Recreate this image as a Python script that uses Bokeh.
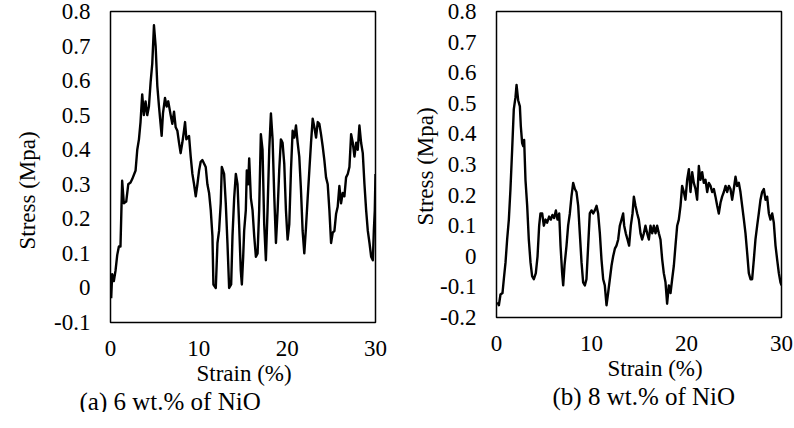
from bokeh.plotting import figure
from bokeh.layouts import row
from bokeh.models import Range1d, FixedTicker, CustomJSTickFormatter, Title
from bokeh.embed import file_html
from bokeh.resources import INLINE

# ---------------- data ----------------
strain_a = [
    0.08, 0.19, 0.38, 0.57, 0.76, 0.95, 1.13, 1.32, 1.51, 1.78,
    2.01, 2.27, 2.46, 2.84, 3.03, 3.22, 3.40, 3.59, 3.78, 3.97,
    4.16, 4.35, 4.54, 4.73, 4.92, 5.11, 5.30, 5.49, 5.67, 5.79,
    5.94, 6.17, 6.36, 6.54, 6.81, 7.00, 7.19, 7.38, 7.57, 7.76,
    7.94, 8.13, 8.32, 8.44, 8.59, 8.89, 9.08, 9.27, 9.46, 9.65,
    9.84, 10.03, 10.21, 10.40, 10.78, 10.97, 11.16, 11.35, 11.54, 11.65,
    11.92, 12.11, 12.29, 12.48, 12.60, 12.86, 13.05, 13.24, 13.43, 13.66,
    13.81, 14.00, 14.19, 14.38, 14.56, 14.75, 14.87, 15.02, 15.13, 15.32,
    15.43, 15.59, 15.70, 15.89, 16.08, 16.27, 16.46, 16.65, 16.83, 17.02,
    17.21, 17.40, 17.59, 17.78, 17.97, 18.16, 18.35, 18.54, 18.73, 18.92,
    19.10, 19.29, 19.48, 19.67, 19.86, 20.05, 20.24, 20.43, 20.62, 20.81,
    21.00, 21.19, 21.37, 21.56, 21.75, 21.94, 22.13, 22.32, 22.51, 22.70,
    22.89, 23.08, 23.27, 23.46, 23.64, 23.83, 24.02, 24.21, 24.40, 24.59,
    24.78, 24.97, 25.16, 25.35, 25.54, 25.72, 25.91, 26.10, 26.29, 26.48,
    26.67, 26.86, 27.05, 27.24, 27.43, 27.62, 27.81, 27.99, 28.18, 28.37,
    28.56, 28.75, 28.94, 29.13, 29.32, 29.51, 29.70, 29.81, 29.92, 30.00,
]
stress_a = [
    -0.03, 0.04, 0.02, 0.05, 0.095, 0.12, 0.12, 0.31, 0.245, 0.25,
    0.30, 0.305, 0.315, 0.34, 0.40, 0.43, 0.48, 0.56, 0.50, 0.54,
    0.50, 0.525, 0.595, 0.65, 0.76, 0.70, 0.585, 0.525, 0.475, 0.44,
    0.505, 0.55, 0.525, 0.54, 0.50, 0.475, 0.51, 0.465, 0.455, 0.42,
    0.39, 0.42, 0.455, 0.48, 0.43, 0.44, 0.38, 0.33, 0.30, 0.265,
    0.30, 0.34, 0.365, 0.37, 0.35, 0.30, 0.275, 0.225, 0.15, 0.01,
    0.0, 0.13, 0.165, 0.245, 0.35, 0.33, 0.245, 0.13, 0.0, 0.01,
    0.15, 0.26, 0.33, 0.30, 0.185, 0.05, 0.01, 0.09, 0.165, 0.225,
    0.34, 0.30, 0.375, 0.26, 0.225, 0.15, 0.09, 0.10, 0.225, 0.445,
    0.40, 0.185, 0.08, 0.225, 0.40, 0.505, 0.43, 0.265, 0.13, 0.225,
    0.34, 0.43, 0.42, 0.36, 0.225, 0.14, 0.185, 0.34, 0.455, 0.435,
    0.47, 0.42, 0.38, 0.285, 0.165, 0.10, 0.175, 0.26, 0.34, 0.42,
    0.49, 0.465, 0.435, 0.48, 0.475, 0.445, 0.41, 0.37, 0.32, 0.30,
    0.225, 0.13, 0.16, 0.165, 0.215, 0.235, 0.295, 0.245, 0.275, 0.265,
    0.32, 0.33, 0.35, 0.445, 0.42, 0.38, 0.42, 0.40, 0.47, 0.42,
    0.39, 0.30, 0.225, 0.165, 0.13, 0.09, 0.08, 0.165, 0.225, 0.33,
]

strain_b = [
    0.11, 0.25, 0.42, 0.63, 0.77, 0.95, 1.12, 1.30, 1.47, 1.65,
    1.82, 2.00, 2.11, 2.28, 2.46, 2.56, 2.70, 2.81, 2.91, 3.05,
    3.23, 3.40, 3.58, 3.75, 3.93, 4.14, 4.32, 4.49, 4.63, 4.81,
    4.98, 5.16, 5.33, 5.54, 5.72, 5.89, 6.07, 6.25, 6.42, 6.60,
    6.74, 6.91, 7.02, 7.16, 7.37, 7.54, 7.72, 7.89, 8.07, 8.25,
    8.42, 8.60, 8.77, 8.95, 9.12, 9.30, 9.47, 9.65, 9.82, 10.00,
    10.18, 10.35, 10.53, 10.70, 10.88, 11.05, 11.23, 11.40, 11.58, 11.75,
    11.93, 12.11, 12.28, 12.46, 12.63, 12.81, 12.98, 13.16, 13.33, 13.44,
    13.61, 13.79, 13.96, 14.14, 14.32, 14.46, 14.63, 14.81, 14.98, 15.16,
    15.33, 15.51, 15.68, 15.86, 16.04, 16.21, 16.39, 16.56, 16.74, 16.91,
    17.09, 17.26, 17.44, 17.61, 17.79, 17.96, 18.14, 18.32, 18.49, 18.67,
    18.84, 19.02, 19.19, 19.37, 19.54, 19.72, 19.89, 20.07, 20.25, 20.42,
    20.60, 20.77, 20.95, 21.12, 21.30, 21.47, 21.65, 21.82, 22.00, 22.18,
    22.35, 22.53, 22.70, 22.88, 23.05, 23.23, 23.40, 23.58, 23.75, 23.93,
    24.11, 24.28, 24.46, 24.63, 24.81, 24.98, 25.16, 25.33, 25.51, 25.68,
    25.86, 26.04, 26.21, 26.39, 26.56, 26.74, 26.91, 27.09, 27.26, 27.44,
    27.61, 27.79, 27.96, 28.14, 28.32, 28.49, 28.67, 28.84, 29.02, 29.19,
    29.37, 29.54, 29.72, 29.89, 30.00,
]
stress_b = [
    -0.15, -0.16, -0.125, -0.12, -0.075, -0.02, 0.055, 0.12, 0.22, 0.35,
    0.48, 0.52, 0.56, 0.51, 0.49, 0.425, 0.37, 0.36, 0.38, 0.25,
    0.165, 0.055, -0.02, -0.065, -0.075, -0.055, 0.0, 0.10, 0.14, 0.14,
    0.10, 0.12, 0.11, 0.13, 0.12, 0.135, 0.125, 0.15, 0.12, 0.14,
    0.035, -0.055, -0.095, -0.03, 0.035, 0.10, 0.14, 0.195, 0.24, 0.22,
    0.21, 0.165, 0.075, -0.02, -0.085, -0.095, -0.075, 0.035, 0.14, 0.15,
    0.14, 0.15, 0.165, 0.14, 0.075, -0.01, -0.075, -0.095, -0.16, -0.12,
    -0.075, -0.03, 0.0, 0.025, 0.035, 0.055, 0.10, 0.12, 0.14, 0.10,
    0.075, 0.055, 0.035, 0.10, 0.14, 0.195, 0.165, 0.14, 0.12, 0.075,
    0.055, 0.075, 0.10, 0.075, 0.055, 0.10, 0.075, 0.10, 0.075, 0.10,
    0.075, 0.055, -0.01, -0.055, -0.085, -0.155, -0.095, -0.12, -0.075, -0.03,
    0.035, 0.10, 0.12, 0.165, 0.23, 0.21, 0.185, 0.25, 0.285, 0.21,
    0.275, 0.24, 0.22, 0.185, 0.295, 0.25, 0.275, 0.24, 0.25, 0.21,
    0.24, 0.23, 0.21, 0.22, 0.195, 0.165, 0.14, 0.175, 0.195, 0.21,
    0.23, 0.21, 0.23, 0.22, 0.185, 0.22, 0.26, 0.23, 0.24, 0.21,
    0.165, 0.12, 0.075, 0.01, -0.055, -0.075, -0.075, -0.01, 0.055, 0.10,
    0.14, 0.185, 0.21, 0.22, 0.185, 0.195, 0.14, 0.12, 0.14, 0.11,
    0.035, -0.01, -0.055, -0.085, -0.095,
]

x_ticks = [0, 10, 20, 30]
y_ticks_a = [-0.1, 0.0, 0.1, 0.2, 0.3, 0.4, 0.5, 0.6, 0.7, 0.8]
y_ticks_b = [-0.2, -0.1, 0.0, 0.1, 0.2, 0.3, 0.4, 0.5, 0.6, 0.7, 0.8]
x_label = "Strain (%)"
y_label = "Stress (Mpa)"
caption_a = "(a) 6 wt.% of NiO"
caption_b = "(b) 8 wt.% of NiO"

FONT = "Liberation Serif"
fmt_y = "const v = Math.round(tick*10)/10; return v === 0 ? '0' : v.toFixed(1);"
fmt_x = "return String(Math.round(tick));"


def make(strain, stress, yticks, caption, fw, fh, mbl, mbr, mbt, mbb,
         ylab_standoff, ylab_offset, xlab_offset, cap_offset):
    p = figure(frame_width=fw, frame_height=fh,
               x_range=Range1d(0, 30), y_range=Range1d(yticks[0], yticks[-1]),
               output_backend="svg", toolbar_location=None,
               min_border_left=mbl, min_border_right=mbr,
               min_border_top=mbt, min_border_bottom=mbb)
    p.line(strain, stress, line_color="black", line_width=2.4, line_join="round")
    p.xgrid.visible = False
    p.ygrid.visible = False
    p.outline_line_color = "black"
    p.outline_line_width = 1.5
    p.outline_line_alpha = 1.0

    p.xaxis.ticker = FixedTicker(ticks=x_ticks)
    p.yaxis.ticker = FixedTicker(ticks=yticks)
    p.xaxis.formatter = CustomJSTickFormatter(code=fmt_x)
    p.yaxis.formatter = CustomJSTickFormatter(code=fmt_y)

    p.xaxis.axis_line_color = None
    p.yaxis.axis_line_color = None
    p.xaxis.major_tick_line_color = None
    p.yaxis.major_tick_line_color = None
    p.xaxis.minor_tick_line_color = None
    p.yaxis.minor_tick_line_color = None
    p.xaxis.major_tick_out = 0
    p.yaxis.major_tick_out = 0
    p.xaxis.major_tick_in = 0
    p.yaxis.major_tick_in = 0

    p.xaxis.major_label_text_font = FONT
    p.yaxis.major_label_text_font = FONT
    p.xaxis.major_label_text_font_size = "23px"
    p.yaxis.major_label_text_font_size = "23px"
    p.xaxis.major_label_text_color = "black"
    p.yaxis.major_label_text_color = "black"
    p.xaxis.major_label_standoff = 18
    p.yaxis.major_label_standoff = 20

    p.add_layout(Title(text=y_label, align="left", offset=ylab_offset,
                       text_font=FONT, text_font_size="23px",
                       text_font_style="normal", text_color="black",
                       standoff=ylab_standoff), "left")
    p.add_layout(Title(text=x_label, align="left", offset=xlab_offset,
                       text_font=FONT, text_font_size="23px",
                       text_font_style="normal", text_color="black",
                       standoff=0), "below")
    p.add_layout(Title(text=caption, align="left", offset=cap_offset,
                       text_font=FONT, text_font_size="25px",
                       text_font_style="normal", text_color="black",
                       standoff=0), "below")
    return p


p1 = make(strain_a, stress_a, y_ticks_a, caption_a, 265, 311, 100, 14, 7, 94,
          24, 73, 86, -31)
p2 = make(strain_b, stress_b, y_ticks_b, caption_b, 285, 306, 107, 12, 11, 95,
          0, 92, 111, 56)

layout = row(p1, p2)
open("out.html", "w").write(file_html(layout, INLINE))
